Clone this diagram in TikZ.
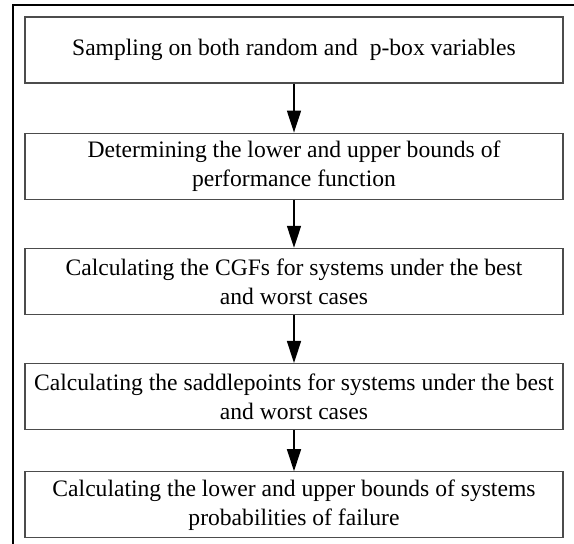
\documentclass[tikz,border=0pt]{standalone}
\usepackage{fontspec}
\setmainfont{Liberation Serif}
\usetikzlibrary{positioning}
\usetikzlibrary{arrows.meta}

\begin{document}
\begin{tikzpicture}[
                x=1pt, y=1pt,
                stepbox/.style = {
                    draw=black!70,
                    line width = 1.2pt,
                    minimum width = 538pt,
                    minimum height = 66pt,
                    inner sep = 0pt,
                    align = center,
                    font = \fontsize{23.6}{29}\selectfont
                },
                flow/.style = {
                    line width = 1.5pt,
                    -{Triangle[width=14pt, length=22pt]}
                },
                node distance = {48pt}
            ]
            \useasboundingbox (0,0) rectangle (574,544);
            % outer frame
            \draw[line width = 2.5pt] (13,0) -- (13,539) -- (574,539);
            % 
            \node[stepbox] (sampling) at (294,494) {Sampling on both random and\ \ p-box variables};
            \node[stepbox, below=49pt of sampling] (bounds) {Determining the lower and upper bounds of\\performance function};
            \node[stepbox, below=of bounds] (cgf) {Calculating the CGFs for systems under the best\\and worst cases};
            \node[stepbox, below=of cgf] (saddle) {Calculating the saddlepoints for systems under the best\\and worst cases};
            \node[stepbox, below=41pt of saddle] (failure) {Calculating the lower and upper bounds of systems\\probabilities of failure};
            % 
            \draw[flow] (sampling) -- (bounds);
            \draw[flow] (bounds) -- (cgf);
            \draw[flow] (cgf) -- (saddle);
            \draw[flow] (saddle) -- (failure);
            % 
        \end{tikzpicture}
\end{document}
